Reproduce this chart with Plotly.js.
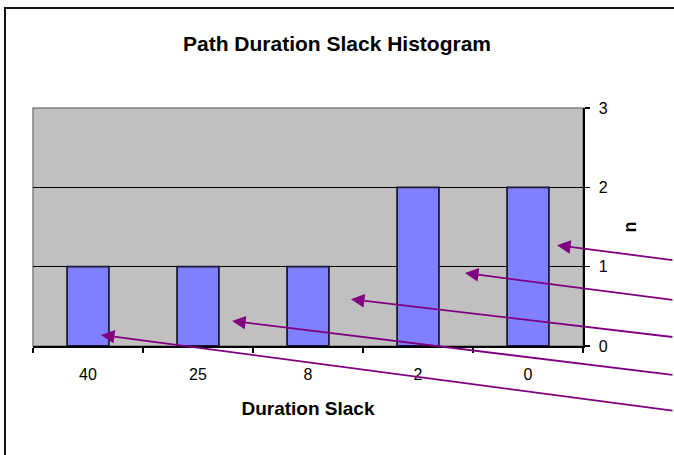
<!DOCTYPE html>
<html>
<head>
<meta charset="utf-8">
<script src="https://cdn.plot.ly/plotly-3.0.1.min.js"></script>
<style>
  html, body { margin: 0; padding: 0; background: #fff; }
  #wrap { position: relative; width: 674px; height: 455px; overflow: hidden; }
  #chart { position: absolute; left: 0; top: 0; width: 674px; height: 455px; }
  #frame { position: absolute; left: 4px; top: 7px; width: 700px; height: 500px;
           border-left: 2px solid #111; border-top: 2px solid #111; pointer-events: none; }
</style>
</head>
<body>
<div id="wrap">
  <div id="chart"></div>
  <div id="frame"></div>
</div>
<script>
// Data
const categories = ["40", "25", "8", "2", "0"];
const counts = [1, 1, 1, 2, 2];
const yTicks = [0, 1, 2, 3];

// Arrow targets (category-index position, count value) and tail offsets in px
const arrowX = [4.264, 3.427, 2.39, 1.31, 0.118];
const arrowY = [1.27, 0.92, 0.59, 0.315, 0.14];
const arrowAx = [117, 209, 323, 442, 573];
const arrowAy = [15, 27, 38, 54, 76];

const font = "Liberation Sans, Arial, sans-serif";

const trace = {
  type: "bar",
  x: categories,
  y: counts,
  width: 0.38,
  marker: { color: "#8080ff", line: { color: "#1a1a38", width: 1.8 } },
  hoverinfo: "x+y"
};

const annotations = arrowX.map((x, i) => ({
  x: x, y: arrowY[i], xref: "x", yref: "y",
  ax: arrowAx[i], ay: arrowAy[i], axref: "pixel", ayref: "pixel",
  text: "", showarrow: true, arrowhead: 2, arrowsize: 1.5,
  arrowwidth: 1.8, arrowcolor: "#800080", standoff: 0
}));

const layout = {
  width: 674, height: 455,
  margin: { l: 33, r: 91, t: 108, b: 109 },
  paper_bgcolor: "#ffffff",
  plot_bgcolor: "#c0c0c0",
  showlegend: false,
  title: {
    text: "<b>Path Duration Slack Histogram</b>",
    font: { family: font, size: 21, color: "#000" },
    x: 0.5, xref: "container", y: 1 - 44 / 455, yref: "container", yanchor: "middle"
  },
  xaxis: {
    type: "category",
    categoryarray: categories, categoryorder: "array",
    range: [-0.5, categories.length - 0.5], autorange: false,
    tickson: "boundaries",
    ticks: "outside", ticklen: 5, tickcolor: "#000", tickwidth: 1.2,
    ticklabelstandoff: 13,
    showline: true, linecolor: "#000", linewidth: 1.5,
    showgrid: false, zeroline: false,
    tickfont: { family: font, size: 16, color: "#000" },
    title: { text: "<b>Duration Slack</b>", font: { family: font, size: 19, color: "#000" }, standoff: 20 },
    fixedrange: true
  },
  yaxis: {
    side: "right",
    range: [0, 3], autorange: false,
    tickvals: yTicks,
    ticks: "outside", ticklen: 5, tickcolor: "#000", tickwidth: 1.2,
    ticklabelstandoff: 6,
    showline: true, linecolor: "#000", linewidth: 1.5,
    showgrid: true, gridcolor: "#000", gridwidth: 1.5,
    zeroline: false,
    tickfont: { family: font, size: 16, color: "#000" },
    title: { text: "<b>n</b>", font: { family: font, size: 18, color: "#000" }, standoff: 16 },
    fixedrange: true
  },
  shapes: [{
    type: "rect", xref: "paper", yref: "paper", x0: 0, x1: 1, y0: 0, y1: 1,
    fillcolor: "#c0c0c0", line: { color: "#808080", width: 1.5 }, layer: "below"
  }],
  annotations: annotations,
  bargap: 0.62
};

Plotly.newPlot("chart", [trace], layout, { displayModeBar: false, staticPlot: true });
</script>
</body>
</html>
